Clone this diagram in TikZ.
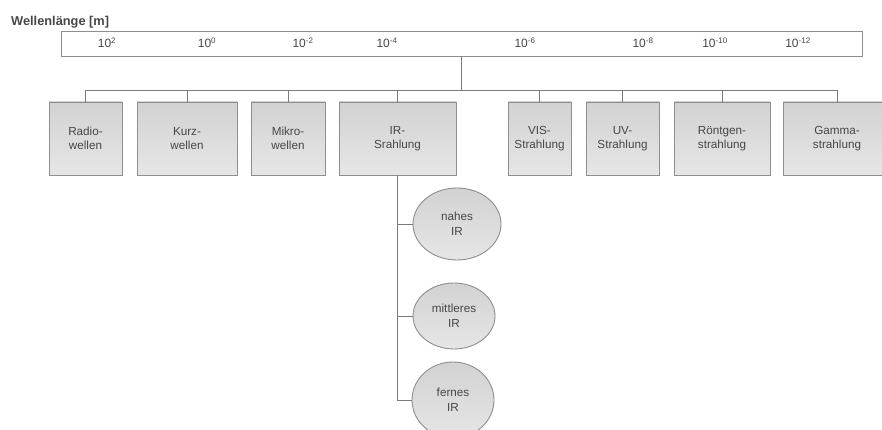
\documentclass[tikz,border=0pt]{standalone}
\usepackage{fontspec}
\setmainfont{Liberation Sans}
\usetikzlibrary{positioning, shapes.geometric}
\definecolor{boxTop}{HTML}{D2D2D2}
\definecolor{boxBottom}{HTML}{E6E6E6}
\definecolor{borderGray}{HTML}{8E8E8E}
\definecolor{lineGray}{HTML}{7A7A7A}
\definecolor{textMain}{HTML}{474747}
\tikzset{
  scalebox/.style={draw=borderGray, fill=white, line width=0.9pt,
    minimum width=801pt, minimum height=25pt, inner sep=0pt},
  tick/.style={font=\fontsize{12}{14}\selectfont, text=textMain, inner sep=0pt},
  wavebox/.style={draw=borderGray, top color=boxTop, bottom color=boxBottom,
    minimum height=73pt, font=\fontsize{11.7}{14.5}\selectfont, text=textMain,
    line width=0.9pt, align=center, inner sep=0pt},
  irzone/.style={ellipse, draw=borderGray, top color=boxTop, bottom color=boxBottom,
    font=\fontsize{11.7}{14.5}\selectfont,
    text=textMain, line width=0.9pt, align=center, inner sep=0pt},
  link/.style={draw=lineGray, line width=0.8pt},
}
\begin{document}
\begin{tikzpicture}[x=1pt, y=-1pt]
  \useasboundingbox (0,0) rectangle (882,430);
  \clip (0,0) rectangle (882,430);

  % === Title and wavelength scale ===
  \node[anchor=west, font=\fontsize{12.8}{14}\selectfont\bfseries, text=textMain,
    inner sep=0pt] (title) at (11,22) {Wellenlänge [m]};
  \node[scalebox] (scale) at (461.5,43.5) {};
  \node[tick] (e2)   at (107,43) {10\textsuperscript{2}};
  \node[tick] (e0)   at (207,43) {10\textsuperscript{0}};
  \node[tick] (em2)  at (303,43) {10\textsuperscript{-2}};
  \node[tick] (em4)  at (387,43) {10\textsuperscript{-4}};
  \node[tick] (em6)  at (525,43) {10\textsuperscript{-6}};
  \node[tick] (em8)  at (643,43) {10\textsuperscript{-8}};
  \node[tick] (em10) at (715,43) {10\textsuperscript{-10}};
  \node[tick] (em12) at (798,43) {10\textsuperscript{-12}};

  % === Row of spectral ranges ===
  \node[wavebox, minimum width=73pt]  (radio)  at (85.5,138.5)  {Radio-\\wellen};
  \node[wavebox, minimum width=100pt] (kurz)   at (187,138.5)   {Kurz-\\wellen};
  \node[wavebox, minimum width=74pt]  (mikro)  at (288,138.5)   {Mikro-\\wellen};
  \node[wavebox, minimum width=117pt] (ir)     at (397.5,138.5) {IR-\\Srahlung};
  \node[wavebox, minimum width=63pt]  (vis)    at (539.5,138.5) {VIS-\\Strahlung};
  \node[wavebox, minimum width=73pt]  (uv)     at (622.5,138.5) {UV-\\Strahlung};
  \node[wavebox, minimum width=96pt]  (roentgen) at (722,138.5) {Röntgen-\\strahlung};
  \node[wavebox, minimum width=108pt] (gamma)  at (837,138.5)   {Gamma-\\strahlung};

  % Bus: scale -> ranges
  \coordinate (bus) at (scale.south |- 0,90);
  \draw[link] (scale.south) -- (bus);
  \draw[link] (radio.north |- bus) -- (gamma.north |- bus);
  \foreach \n in {radio, kurz, mikro, ir, vis, uv, roentgen, gamma}
    \draw[link] (\n.north) -- (\n.north |- bus);

  % === IR sub-ranges ===
  \node[irzone, minimum width=88pt, minimum height=72pt] (nahes)     at (457,224) {nahes\\IR};
  \node[irzone, minimum width=82pt, minimum height=66pt] (mittleres) at (454,316) {mittleres\\IR};
  \node[irzone, minimum width=82pt, minimum height=76pt] (fernes)    at (453,400) {fernes\\IR};

  % Arrows: IR -> sub-ranges
  \draw[link] (ir.south) -- (ir.south |- fernes.west) -- (fernes.west);
  \draw[link] (ir.south |- nahes.west) -- (nahes.west);
  \draw[link] (ir.south |- mittleres.west) -- (mittleres.west);

\end{tikzpicture}
\end{document}
